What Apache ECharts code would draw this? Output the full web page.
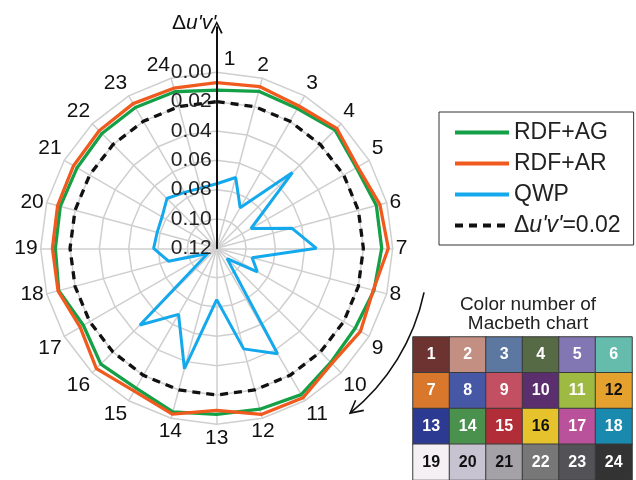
<!DOCTYPE html>
<html><head><meta charset="utf-8">
<script src="https://cdn.jsdelivr.net/npm/echarts@6/dist/echarts.min.js"></script>
<style>html,body{margin:0;padding:0;background:#fff}#c{width:636px;height:480px}</style>
</head><body><div id="c"></div>
<script>
// ---- data ----
const spokeLabels = ['1','2','3','4','5','6','7','8','9','10','11','12','13','14','15','16','17','18','19','20','21','22','23','24'];
const radiusTicks = ['0.00','0.02','0.04','0.06','0.08','0.10','0.12'];
const rdfAG = [0.0121,0.0092,0.0100,0.0059,0.0100,0.0073,0.0075,0.0090,0.0110,0.0100,0.0048,0.0064,0.0068,0.0045,0.0100,0.0083,0.0150,0.0085,0.0100,0.0096,0.0101,0.0093,0.0091,0.0095];
const rdfAR = [0.0071,0.0059,0.0080,0.0043,0.0090,0.0048,0.0030,0.0095,0.0068,0.0090,0.0023,0.0027,0.0095,0.0030,0.0076,0.0040,0.0125,0.0080,0.0080,0.0077,0.0073,0.0067,0.0061,0.0070];
const qwp   = [0.076,0.070,0.088,0.047,0.093,0.067,0.052,0.095,0.088,0.110,0.037,0.049,0.085,0.035,0.068,0.046,0.113,0.086,0.077,0.078,0.077,0.072,0.076,0.0775];
const threshold = [0.02,0.02,0.02,0.02,0.02,0.02,0.02,0.02,0.02,0.02,0.02,0.02,0.02,0.02,0.02,0.02,0.02,0.02,0.02,0.02,0.02,0.02,0.02,0.02];
const seriesNames = ['RDF+AG','RDF+AR','QWP',"Δu'v'=0.02"];
const macbethNumbers = ['1','2','3','4','5','6','7','8','9','10','11','12','13','14','15','16','17','18','19','20','21','22','23','24'];
const macbethColors = ['#6d3331','#c48f83','#5c77a0','#556a45','#8277b3','#66bcac',
                       '#d9772c','#4657a6','#c25062','#5b2f6e','#9fba43','#e5a12e',
                       '#2c3a92','#4a914e','#b12d37','#e6c22c','#b9529a','#1989ae',
                       '#f4f0f4','#c8c3d0','#a4a1a7','#777777','#535256','#333333'];
const macbethTextDark = ['12','16','19','20','21'];

// ---- layout ----
const CX = 216.7, CY = 248.3, R = 176, R_ARROW = 221;
const FONT = "'Liberation Sans', Arial, sans-serif";
const STEP = 360 / spokeLabels.length;
const toPolar = vals => vals.map((v, i) => [v, i * STEP]).concat([[vals[0], 360]]);

const chart = echarts.init(document.getElementById('c'), null, {renderer: 'canvas'});
const chevron = 'path://M5,0 L10,10 L8.6,10.7 L5,2.8 L1.4,10.7 L0,10 Z';

const heatData = macbethNumbers.map((n, i) => ({
  value: [i % 6, Math.floor(i / 6), n],
  itemStyle: {color: macbethColors[i]},
  label: {color: macbethTextDark.includes(n) ? '#111' : '#fff'}
}));

const option = {
  animation: false,
  backgroundColor: '#fff',
  title: [
    {text: "{n|Δ}{i|u'v'}", left: 167, top: 8,
     textStyle: {fontWeight: 'normal',
       rich: {n: {fontSize: 21, fontWeight: 'normal', color: '#111', fontFamily: FONT},
              i: {fontSize: 21, fontWeight: 'normal', fontStyle: 'italic', color: '#111', fontFamily: FONT}}}},
    {text: 'Color number of\nMacbeth chart', left: 523, top: 290, textAlign: 'center',
     textStyle: {fontSize: 19, fontWeight: 'normal', color: '#222', lineHeight: 19, fontFamily: FONT}}
  ],
  radar: {
    z: 0,
    center: [CX, CY], radius: R, startAngle: 90, shape: 'polygon', splitNumber: 6,
    indicator: spokeLabels.map(n => ({name: n, min: 0, max: 1})),
    axisName: {show: false},
    axisLine: {lineStyle: {color: '#cfcfcf', width: 1.5}},
    splitLine: {lineStyle: {color: '#cfcfcf', width: 1.5}},
    splitArea: {show: false}
  },
  polar: [{center: [CX, CY], radius: R}, {center: [CX, CY], radius: R_ARROW}],
  angleAxis: [
    {polarIndex: 0, type: 'value', min: 0, max: 360, interval: STEP, startAngle: 90, clockwise: true,
     axisLine: {show: false}, axisTick: {show: false}, splitLine: {show: false},
     axisLabel: {show: true, margin: 3, fontSize: 21, color: '#111', fontFamily: FONT,
       formatter: v => {
         const idx = Math.round(v / STEP);
         if (idx >= spokeLabels.length) return '';
         const t = spokeLabels[idx];
         if (idx === 0) return '{r|' + t + '}';
         if (idx === spokeLabels.length - 1) return '{l|' + t + '}';
         return t;
       },
       rich: {r: {fontSize: 21, color: '#111', fontFamily: FONT, padding: [0, 0, 0, 26]},
              l: {fontSize: 21, color: '#111', fontFamily: FONT, padding: [0, 24, 0, 0]}}
     }},
    {polarIndex: 1, type: 'value', min: 0, max: 360, startAngle: 90, show: false}
  ],
  radiusAxis: [
    {polarIndex: 0, type: 'value', min: 0, max: 0.12, interval: 0.02, inverse: true, z: 10,
     axisLine: {show: false}, axisTick: {show: false}, splitLine: {show: false},
     axisLabel: {show: true, margin: 5, fontSize: 21, color: '#222', fontFamily: FONT,
       formatter: v => radiusTicks[Math.round(v / 0.02)] || ''}},
    {polarIndex: 1, type: 'value', min: 0, max: 1, z: 11,
     axisLine: {show: true, symbol: ['none', chevron], symbolSize: [12, 14], lineStyle: {color: '#111', width: 2}},
     axisTick: {show: false}, axisLabel: {show: false}, splitLine: {show: false}}
  ],
  legend: {
    orient: 'vertical', left: 439, top: 112,
    data: seriesNames,
    itemWidth: 54, itemHeight: 14, itemGap: 8,
    itemStyle: {opacity: 0},
    lineStyle: {width: 4},
    borderColor: '#333', borderWidth: 1, padding: [9, 13, 8, 14],
    textStyle: {fontSize: 23, color: '#222', fontFamily: FONT,
      rich: {n: {fontSize: 23, color: '#222', fontFamily: FONT}, i: {fontSize: 23, fontStyle: 'italic', color: '#222', fontFamily: FONT}}},
    formatter: name => name === seriesNames[3] ? "{n|Δ}{i|u'v'}{n|=0.02}" : name
  },
  grid: {left: 413, top: 337, width: 219, height: 145},
  xAxis: {type: 'category', data: [0,1,2,3,4,5], show: false},
  yAxis: {type: 'category', data: [0,1,2,3], inverse: true, show: false},
  graphic: [
    {type: 'arc', shape: {cx: CX, cy: CY, r: 212, startAngle: 12 * Math.PI / 180, endAngle: 51 * Math.PI / 180},
     style: {stroke: '#111', lineWidth: 1.6, fill: null}},
    {type: 'polyline', shape: {points: [[363.8, 410.4], [350.1, 413.1], [355.6, 400.2]]},
     style: {stroke: '#111', lineWidth: 1.6, fill: null}}
  ],
  series: [
    {name: seriesNames[0], type: 'line', coordinateSystem: 'polar', polarIndex: 0, data: toPolar(rdfAG),
     showSymbol: false, symbol: 'none', z: 3, color: '#14a046', lineStyle: {color: '#14a046', width: 3.3}},
    {name: seriesNames[1], type: 'line', coordinateSystem: 'polar', polarIndex: 0, data: toPolar(rdfAR),
     showSymbol: false, symbol: 'none', z: 4, color: '#f05a1e', lineStyle: {color: '#f05a1e', width: 3.3}},
    {name: seriesNames[2], type: 'line', coordinateSystem: 'polar', polarIndex: 0, data: toPolar(qwp),
     showSymbol: false, symbol: 'none', z: 3, color: '#14a8ec', lineStyle: {color: '#14a8ec', width: 3}},
    {name: seriesNames[3], type: 'line', coordinateSystem: 'polar', polarIndex: 0, data: toPolar(threshold),
     showSymbol: false, symbol: 'none', z: 3, color: '#111', lineStyle: {color: '#111', width: 3.3, type: [8, 6]}},
    {type: 'heatmap', data: heatData,
     itemStyle: {borderColor: '#3a3a3a', borderWidth: 1},
     label: {show: true, fontSize: 16, fontWeight: 'bold', fontFamily: FONT, formatter: p => p.value[2]},
     emphasis: {disabled: true}}
  ]
};
chart.setOption(option);
</script>
</body></html>
